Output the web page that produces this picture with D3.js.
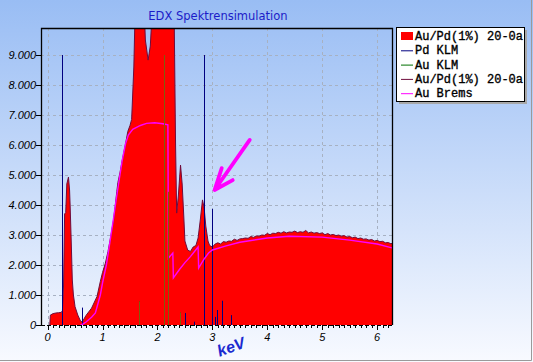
<!DOCTYPE html>
<html>
<head>
<meta charset="utf-8">
<script src="https://cdn.jsdelivr.net/npm/d3@7"></script>
<style>
  body { margin: 0; overflow: hidden; }
</style>
</head>
<body>
<svg id="chart" width="533" height="362"></svg>
<script>
// EDX spectrum simulation: Au/Pd(1%) 20-0a

// measured spectrum (keV, counts); values above the top are cut by the plot
const specKeV = [0.04, 0.05, 0.10, 0.15, 0.20, 0.25, 0.27, 0.29, 0.31, 0.33, 0.35, 0.38, 0.40, 0.41, 0.43, 0.45,
  0.47, 0.50, 0.55, 0.60, 0.63, 0.70, 0.80, 0.90, 0.96, 1.00, 1.05, 1.10, 1.15, 1.20, 1.23, 1.26, 1.28,
  1.32, 1.36, 1.42, 1.46, 1.50, 1.53, 1.57, 1.60, 1.75, 1.78, 1.83, 1.87, 1.92, 2.30, 2.33, 2.35, 2.38,
  2.42, 2.45, 2.48, 2.50, 2.55, 2.60, 2.65, 2.70, 2.74, 2.78, 2.82, 2.85, 2.88, 2.92, 2.95,
  3.00, 3.05, 3.10, 3.15, 3.20, 3.25, 3.30, 3.35, 3.40, 3.45, 3.50, 3.55, 3.60, 3.65, 3.70, 3.75, 3.80,
  3.85, 3.90, 3.95, 4.00, 4.05, 4.10, 4.15, 4.20, 4.25, 4.30, 4.35, 4.40, 4.45, 4.50, 4.55, 4.60, 4.65,
  4.70, 4.75, 4.80, 4.85, 4.90, 4.95, 5.00, 5.05, 5.10, 5.15, 5.20, 5.25, 5.30, 5.35, 5.40, 5.45, 5.50,
  5.55, 5.60, 5.65, 5.70, 5.75, 5.80, 5.85, 5.90, 5.95, 6.00, 6.05, 6.10, 6.15, 6.20, 6.25, 6.27];
const specCounts = [0, 330, 380, 400, 410, 420, 480, 1300, 3700, 3750, 4700, 4930, 4500, 4000, 2800, 1500,
  1000, 610, 330, 130, 100, 320, 560, 950, 1450, 1750, 2050, 2450, 2950, 3500, 3950, 4450, 4750,
  5100, 5500, 6050, 6450, 6650, 6850, 8600, 11000, 11000, 9500, 8830, 9300, 11000, 11000, 6000, 3730, 4300,
  5330, 4700, 3600, 2800, 2500, 2450, 2600, 2650, 2900, 3500, 4170, 3900, 3300, 2800, 2650,
  2600, 2700, 2740, 2700, 2780, 2760, 2800, 2790, 2860, 2820, 2870, 2880, 2900, 2890, 2950, 2920, 2970,
  2960, 3000, 2990, 3050, 3010, 3060, 3050, 3090, 3060, 3110, 3070, 3100, 3090, 3130, 3080, 3110, 3090,
  3150, 3070, 3100, 3060, 3080, 3050, 3070, 3010, 3050, 3000, 3020, 2980, 3000, 2960, 2980, 2930, 2950,
  2910, 2930, 2880, 2900, 2860, 2870, 2830, 2850, 2800, 2820, 2780, 2790, 2740, 2750, 2710, 2720];

// Au bremsstrahlung background
const bremsKeV = [0.60, 0.65, 0.70, 0.80, 0.87, 0.96, 1.00, 1.07, 1.14, 1.20, 1.25, 1.30, 1.36, 1.42, 1.47,
  1.55, 1.69, 1.80, 1.95, 2.10, 2.19, 2.20, 2.28, 2.29, 2.40, 2.50, 2.60, 2.74, 2.75, 2.85, 2.93, 3.00,
  3.25, 3.50, 4.00, 4.40, 5.00, 5.50, 6.00, 6.27];
const bremsCounts = [0, 40, 100, 260, 400, 1000, 1400, 2000, 2830, 3550, 4200, 4800, 5500, 6050, 6330,
  6520, 6650, 6720, 6740, 6710, 6670, 2230, 2400, 1570, 1850, 2080, 2280, 2600, 1900, 2200, 2400, 2500,
  2640, 2760, 2900, 2960, 2930, 2830, 2700, 2570];

// line markers
const pdKeV = [0.27, 0.62, 2.50, 2.66, 2.84, 2.99, 3.05, 3.08, 3.17, 3.33];
const pdCounts = [9000, 580, 400, 110, 9000, 3870, 270, 500, 810, 330];
const auKeV = [1.66, 2.12, 2.20, 2.41];
const auCounts = [780, 9000, 4440, 410];

const xTicks = [0, 1, 2, 3, 4, 5, 6];
const yTicks = [0, 1000, 2000, 3000, 4000, 5000, 6000, 7000, 8000, 9000];
const legendLabels = ['Au/Pd(1%) 20-0a', 'Pd KLM', 'Au KLM', 'Au/Pd(1%) 20-0a', 'Au Brems'];
const titleText = 'EDX Spektrensimulation';
const xLabel = 'keV';
// annotation arrow (keV, counts): shaft start, tip, two barbs
const arrowKeV = [3.68, 3.04, 3.17, 3.37];
const arrowCounts = [6170, 4500, 5230, 4830];

const col = {
  spec: '#ff0000', specLine: '#6e0c3c', pd: '#000080', au: '#007000', auInside: '#7d5f0c',
  brems: '#ff00ff', grid: '#a7b1c2', title: '#1c1cc8', keV: '#1a2ad0'
};

const W = 533, H = 362;
const plot = {left: 41, top: 28, right: 392, bottom: 325};

const svg = d3.select('#chart');
const x = d3.scaleLinear().domain([-0.12, 6.27]).range([plot.left, plot.right]);
const y = d3.scaleLinear().domain([0, 9900]).range([plot.bottom, plot.top]);
const fmt = d3.formatLocale({decimal: ',', thousands: '.', grouping: [3], currency: ['', '€']}).format(',d');
const px = v => Math.round(v) + 0.5;

const spec = specKeV.map((k, i) => ({k, c: specCounts[i]}));
const brems = bremsKeV.map((k, i) => ({k, c: bremsCounts[i]}));
const pdLines = pdKeV.map((k, i) => ({k, c: pdCounts[i]}));
const auLines = auKeV.map((k, i) => ({k, c: auCounts[i]}));

// background
const defs = svg.append('defs');
const grad = defs.append('linearGradient').attr('id', 'bg').attr('x1', 0).attr('y1', 0).attr('x2', 0).attr('y2', 1);
grad.append('stop').attr('offset', 0).attr('stop-color', '#99bdf4');
grad.append('stop').attr('offset', 1).attr('stop-color', '#f8faff');
svg.append('rect').attr('width', W).attr('height', H).attr('fill', 'url(#bg)');
svg.append('path')
  .attr('d', `M0,${H - 1.5}H${W - 1.5}V0`)
  .attr('fill', 'none').attr('stroke', '#9a9a9a');

defs.append('clipPath').attr('id', 'plotClip')
  .append('rect').attr('x', plot.left).attr('y', plot.top)
  .attr('width', plot.right - plot.left).attr('height', plot.bottom - plot.top);

// grid
const grid = svg.append('g').attr('stroke', col.grid).attr('stroke-dasharray', '3,3');
grid.selectAll('line.gx').data(xTicks).enter().append('line')
  .attr('x1', d => px(x(d))).attr('x2', d => px(x(d)))
  .attr('y1', plot.top).attr('y2', plot.bottom);
grid.selectAll('line.gy').data(yTicks.filter(d => d > 0)).enter().append('line')
  .attr('y1', d => px(y(d))).attr('y2', d => px(y(d)))
  .attr('x1', plot.left).attr('x2', plot.right);

// spectrum
const area = d3.area().x(d => x(d.k)).y0(y(0)).y1(d => y(d.c));
const line = d3.line().x(d => x(d.k)).y(d => y(d.c));
const plotG = svg.append('g').attr('clip-path', 'url(#plotClip)');
plotG.append('path').datum(spec).attr('d', area).attr('fill', col.spec);
plotG.append('path').datum(spec).attr('d', line)
  .attr('fill', 'none').attr('stroke', col.specLine).attr('stroke-width', 1);

defs.append('clipPath').attr('id', 'specClip')
  .append('path').datum(spec).attr('d', area);

// line markers
const drawMarkers = (g, data, color) => {
  g.selectAll('line').data(data).enter().append('line')
    .attr('x1', d => px(x(d.k))).attr('x2', d => px(x(d.k)))
    .attr('y1', y(0)).attr('y2', d => y(d.c))
    .attr('stroke', color).attr('stroke-width', 1);
};
drawMarkers(plotG.append('g'), pdLines, col.pd);
drawMarkers(plotG.append('g'), auLines, col.au);
drawMarkers(svg.append('g').attr('clip-path', 'url(#specClip)'), auLines, col.auInside);

// brems
plotG.append('path').datum(brems).attr('d', line)
  .attr('fill', 'none').attr('stroke', col.brems).attr('stroke-width', 1.4);

// frame
svg.append('path')
  .attr('d', `M${px(plot.left)},${plot.bottom}V${px(plot.top)}H${px(plot.right)}V${plot.bottom}`)
  .attr('fill', 'none').attr('stroke', '#000').attr('stroke-width', 1.3);
svg.append('line')
  .attr('x1', plot.left).attr('x2', plot.right).attr('y1', px(plot.bottom)).attr('y2', px(plot.bottom))
  .attr('stroke', '#000').attr('stroke-dasharray', '4,2');

// y axis
const yAxis = svg.append('g');
yAxis.selectAll('line').data(yTicks).enter().append('line')
  .attr('x1', plot.left - 5).attr('x2', plot.left)
  .attr('y1', d => px(y(d))).attr('y2', d => px(y(d)))
  .attr('stroke', '#000');
yAxis.selectAll('text').data(yTicks).enter().append('text')
  .attr('x', plot.left - 5).attr('y', d => y(d) + 4)
  .attr('text-anchor', 'end')
  .attr('font-family', 'Liberation Sans, Arial, sans-serif').attr('font-size', 11).attr('font-style', 'italic')
  .text(d => fmt(d));

// x axis
const xAxis = svg.append('g');
xAxis.selectAll('line.minor').data(d3.range(0, 63).map(i => i / 10)).enter().append('line')
  .attr('class', 'minor')
  .attr('x1', d => px(x(d))).attr('x2', d => px(x(d)))
  .attr('y1', plot.bottom).attr('y2', d => plot.bottom + (Math.abs(d - Math.round(d)) < 1e-6 ? 5 : 3))
  .attr('stroke', '#000');
xAxis.selectAll('text').data(xTicks).enter().append('text')
  .attr('x', d => x(d)).attr('y', 341)
  .attr('text-anchor', 'middle')
  .attr('font-family', 'Liberation Sans, Arial, sans-serif').attr('font-size', 11).attr('font-style', 'italic')
  .text(d => d);

svg.append('text')
  .attr('transform', 'translate(233,352) rotate(-20)')
  .attr('text-anchor', 'middle')
  .attr('font-family', 'Liberation Sans, Arial, sans-serif').attr('font-size', 16)
  .attr('font-weight', 'bold').attr('font-style', 'italic')
  .attr('fill', col.keV)
  .text(xLabel);

// title
svg.append('text')
  .attr('x', 218).attr('y', 20)
  .attr('text-anchor', 'middle')
  .attr('font-family', 'DejaVu Sans, Verdana, sans-serif').attr('font-size', 11.5)
  .attr('fill', col.title)
  .text(titleText);

// arrow annotation
const ap = arrowKeV.map((k, i) => [x(k), y(arrowCounts[i])]);
svg.append('path')
  .attr('d', `M${ap[0]}L${ap[1]}M${ap[2]}L${ap[1]}L${ap[3]}`)
  .attr('fill', 'none').attr('stroke', col.brems).attr('stroke-width', 3.8)
  .attr('stroke-linecap', 'round').attr('stroke-linejoin', 'round');

// legend
const leg = svg.append('g').attr('transform', 'translate(396,27)');
leg.append('rect').attr('x', 3).attr('y', 3).attr('width', 128).attr('height', 74).attr('fill', '#a8a8a8');
leg.append('rect').attr('x', 0.5).attr('y', 0.5).attr('width', 128).attr('height', 74)
  .attr('fill', '#fff').attr('stroke', '#000');
const legColors = [col.spec, col.pd, col.au, col.specLine, col.brems];
const rows = leg.selectAll('g.row').data(legendLabels).enter().append('g')
  .attr('transform', (d, i) => `translate(0,${9 + i * 14.3})`);
rows.each(function(d, i) {
  const g = d3.select(this);
  if (i === 0) {
    g.append('rect').attr('x', 5).attr('y', -4).attr('width', 12).attr('height', 8).attr('fill', legColors[i]);
  } else {
    g.append('line').attr('x1', 5).attr('x2', 17).attr('y1', 0.5).attr('y2', 0.5)
      .attr('stroke', legColors[i]);
  }
});
rows.append('text')
  .attr('x', 19).attr('y', 4)
  .attr('font-family', 'Liberation Mono, Courier New, monospace').attr('font-size', 12)
  .attr('stroke', '#000').attr('stroke-width', 0.35)
  .text(d => d);
</script>
</body>
</html>
